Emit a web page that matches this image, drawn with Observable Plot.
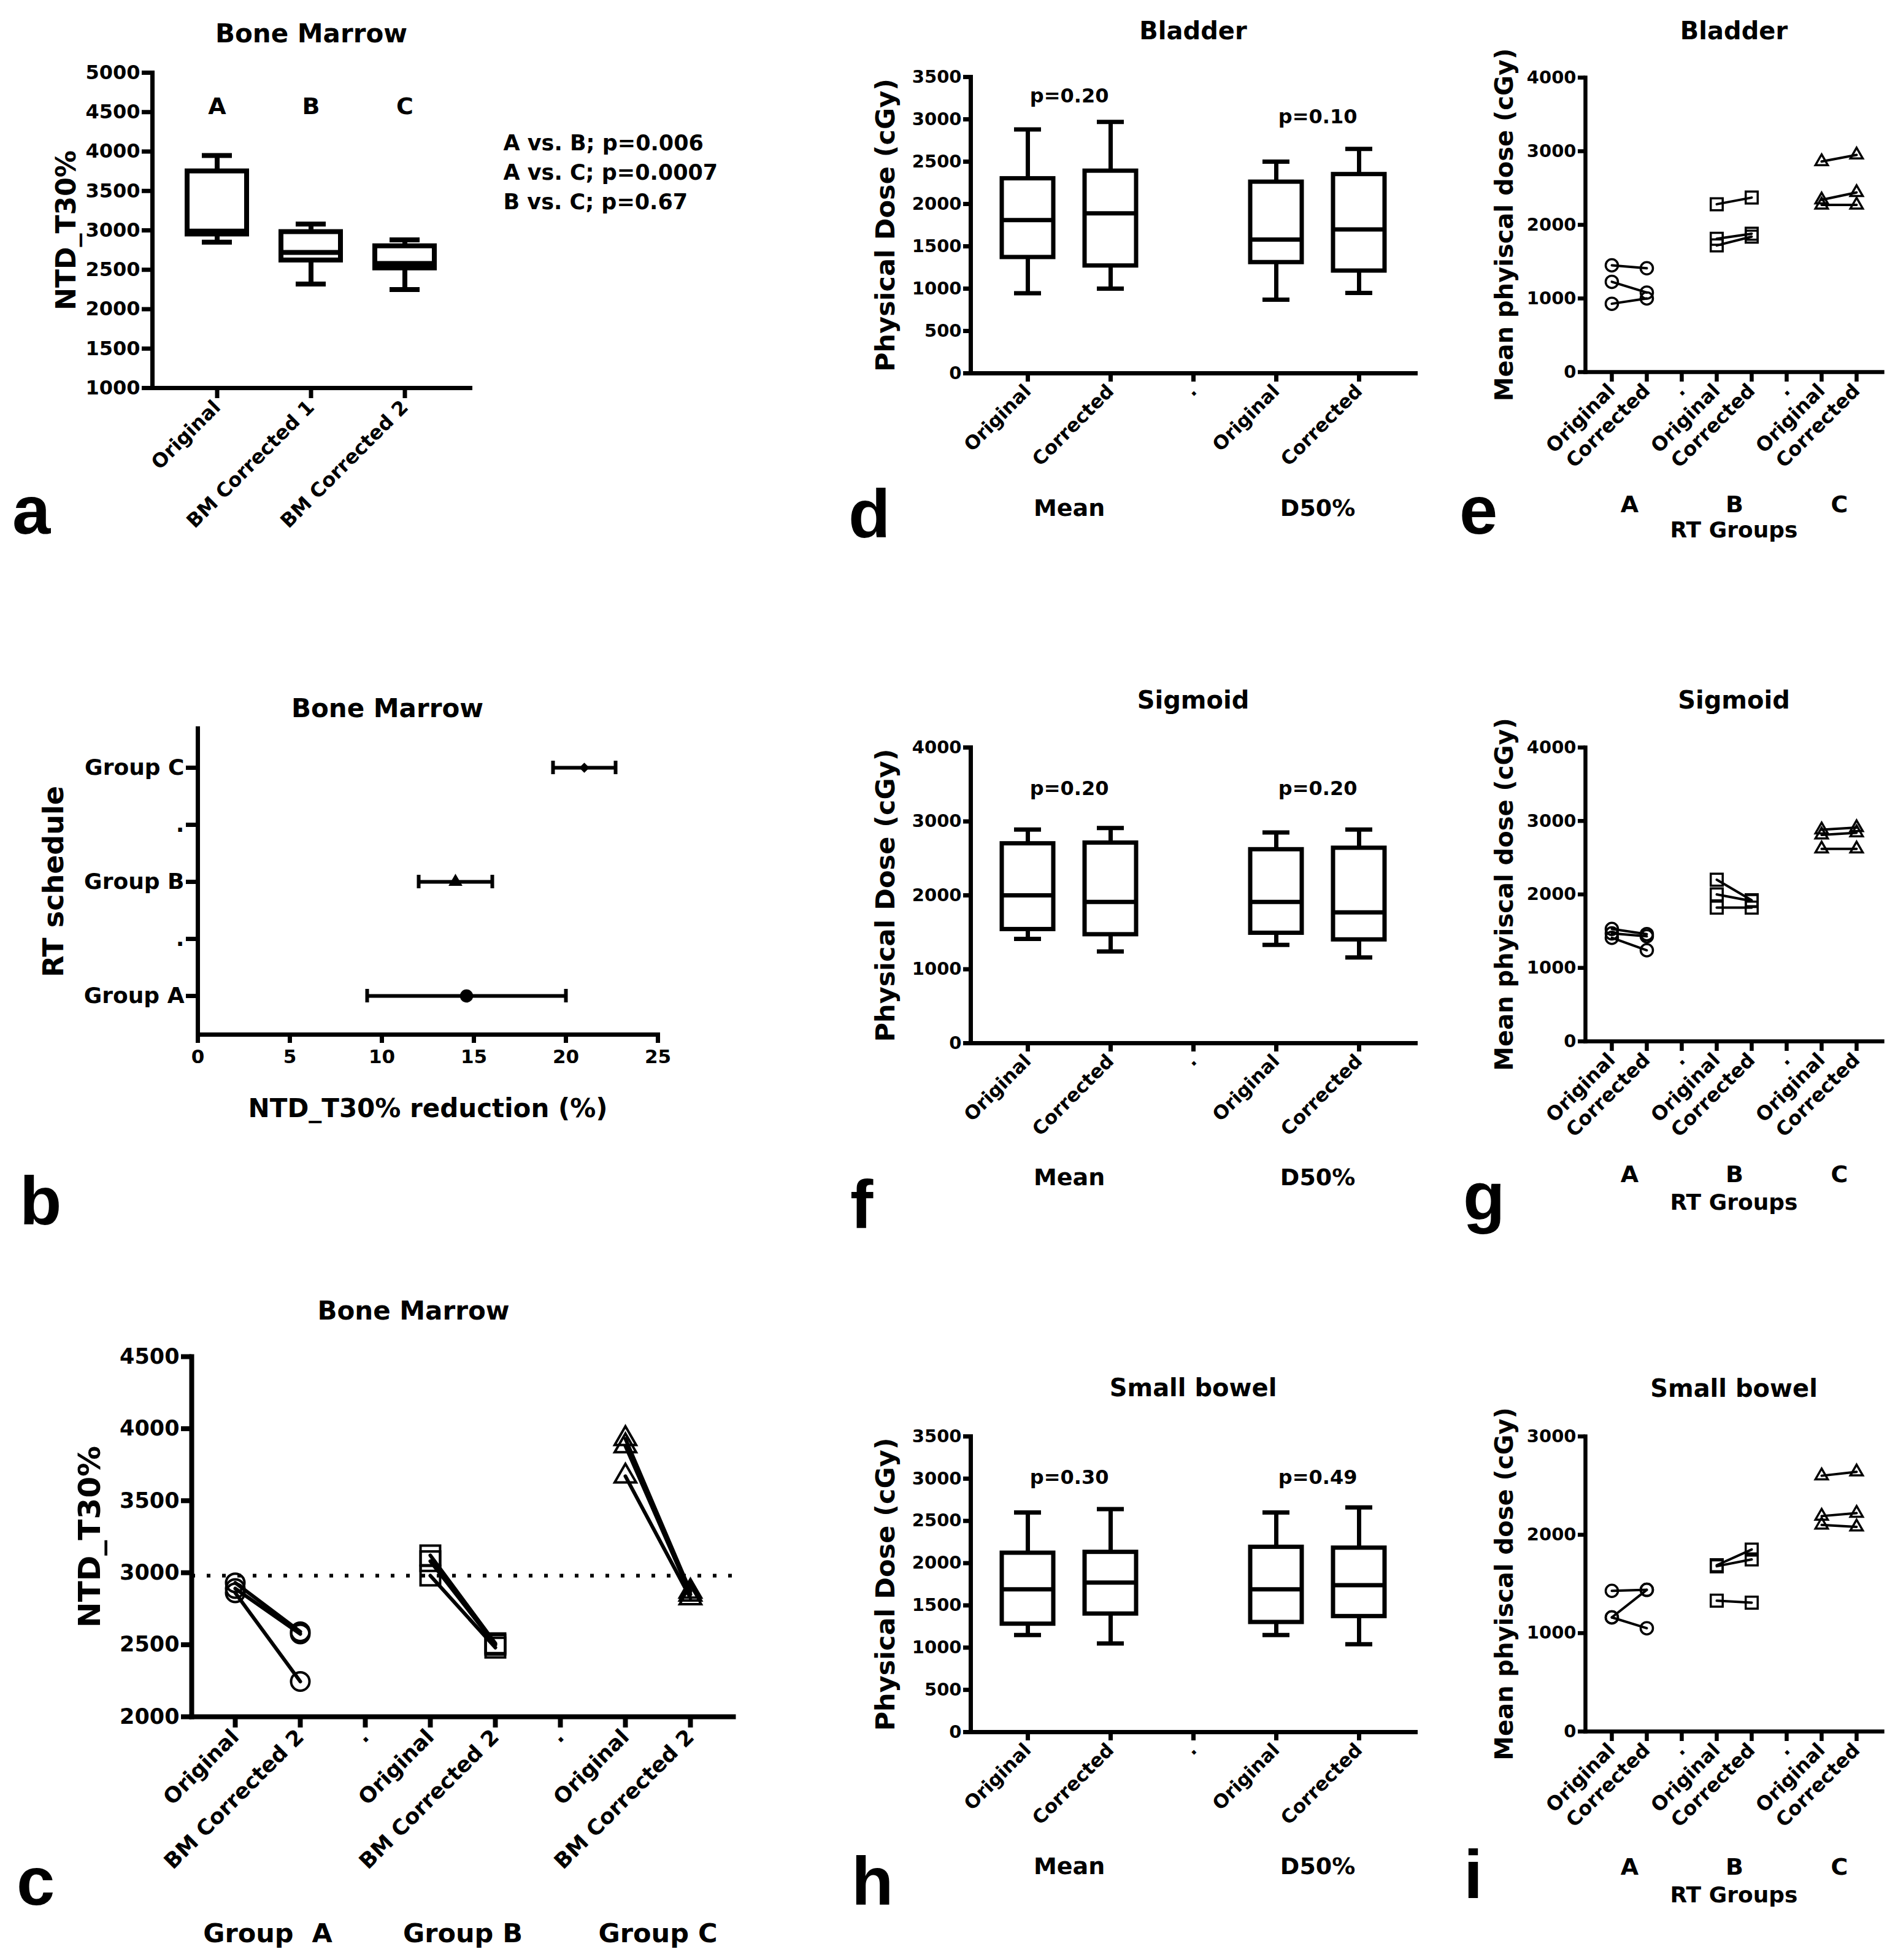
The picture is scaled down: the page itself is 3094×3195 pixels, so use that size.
<!DOCTYPE html>
<html>
<head>
<meta charset="utf-8">
<script src="https://cdn.jsdelivr.net/npm/d3@7"></script>
<script src="https://cdn.jsdelivr.net/npm/@observablehq/plot@0.6"></script>
<style>
  body { margin: 0; background: #fff; }
  #root { position: relative; width: 3094px; height: 3195px; background: #fff; overflow: hidden; }
  .letter { position: absolute; font-family: "Liberation Sans", Arial, sans-serif; font-weight: bold; font-size: 112px; line-height: 1; color: #000; }
</style>
</head>
<body>
<div id="root"></div>
<script>
// ---------------- DATA ----------------
// Panel a: Bone Marrow box plot
const bmCategories = ["Original", "BM Corrected 1", "BM Corrected 2"];
const bmLetters = ["A", "B", "C"];
const bmLow = [2850, 2320, 2250];
const bmQ1 = [2950, 2620, 2520];
const bmMedian = [2990, 2720, 2580];
const bmQ3 = [3750, 2980, 2800];
const bmHigh = [3950, 3080, 2880];
const bmComparisons = ["A vs. B; p=0.006", "A vs. C; p=0.0007", "B vs. C; p=0.67"];

// Panel b: NTD_T30% reduction by RT schedule
const rtGroups = ["Group A", "Group B", "Group C"];
const rtReduction = [14.6, 14.0, 21.0];
const rtLower = [9.2, 12.0, 19.3];
const rtUpper = [20.0, 16.0, 22.7];
const rtAxisKeys = ["Group A", "gapAB", "Group B", "gapBC", "Group C"];
const rtAxisLabels = ["Group A", ".", "Group B", ".", "Group C"];

// Panel c: Bone Marrow paired values
const groupIds = ["A", "B", "C"];
const pairKeys = ["A-Original", "A-Corrected", "gap1", "B-Original", "B-Corrected", "gap2", "C-Original", "C-Corrected"];
const bmPairTickLabels = ["Original", "BM Corrected 2", ".", "Original", "BM Corrected 2", ".", "Original", "BM Corrected 2"];
const bmPairGroupLabels = ["Group  A", "Group B", "Group C"];
const bmOrigA = [2930, 2890, 2860];
const bmCorrA = [2590, 2575, 2245];
const bmOrigB = [3120, 3080, 2980];
const bmCorrB = [2510, 2500, 2480];
const bmOrigC = [3930, 3880, 3670];
const bmCorrC = [2870, 2850, 2825];
const bmThreshold = 2980;

// Panels d, f, h: box plots of physical dose
const doseKeys = ["Mean-Original", "Mean-Corrected", "gap", "D50-Original", "D50-Corrected"];
const doseTickLabels = ["Original", "Corrected", ".", "Original", "Corrected"];
const doseBoxKeys = ["Mean-Original", "Mean-Corrected", "D50-Original", "D50-Corrected"];
const doseMetrics = ["Mean", "D50%"];
const doseMetricKeys = ["Mean-Original", "D50-Original"];

const bladderLow = [945, 1000, 870, 950];
const bladderQ1 = [1370, 1270, 1310, 1210];
const bladderMedian = [1810, 1890, 1580, 1700];
const bladderQ3 = [2300, 2390, 2260, 2350];
const bladderHigh = [2880, 2970, 2500, 2650];
const bladderP = ["p=0.20", "p=0.10"];

const sigmoidLow = [1410, 1240, 1330, 1160];
const sigmoidQ1 = [1540, 1470, 1490, 1400];
const sigmoidMedian = [2000, 1910, 1910, 1770];
const sigmoidQ3 = [2700, 2710, 2620, 2640];
const sigmoidHigh = [2890, 2910, 2850, 2890];
const sigmoidP = ["p=0.20", "p=0.20"];

const bowelLow = [1150, 1050, 1150, 1040];
const bowelQ1 = [1280, 1400, 1300, 1370];
const bowelMedian = [1690, 1770, 1690, 1740];
const bowelQ3 = [2120, 2130, 2190, 2180];
const bowelHigh = [2600, 2640, 2600, 2660];
const bowelP = ["p=0.30", "p=0.49"];

// Panels e, g, i: paired mean physical dose
const rtPairTickLabels = ["Original", "Corrected", ".", "Original", "Corrected", ".", "Original", "Corrected"];
const rtGroupLetters = ["A", "B", "C"];

const bladderOrigA = [1450, 1226, 928];
const bladderCorrA = [1410, 1080, 1000];
const bladderOrigB = [2280, 1810, 1720];
const bladderCorrB = [2370, 1880, 1840];
const bladderOrigC = [2860, 2340, 2270];
const bladderCorrC = [2950, 2440, 2270];

const sigmoidOrigA = [1530, 1470, 1410];
const sigmoidCorrA = [1460, 1430, 1240];
const sigmoidOrigB = [2200, 2000, 1820];
const sigmoidCorrB = [1920, 1910, 1820];
const sigmoidOrigC = [2880, 2810, 2620];
const sigmoidCorrC = [2910, 2840, 2620];

const bowelOrigA = [1430, 1160, 1160];
const bowelCorrA = [1440, 1440, 1050];
const bowelOrigB = [1690, 1680, 1330];
const bowelCorrB = [1850, 1750, 1310];
const bowelOrigC = [2600, 2190, 2100];
const bowelCorrC = [2640, 2220, 2080];

// ---------------- HELPERS ----------------
const FONT = "'DejaVu Sans', 'Liberation Sans', sans-serif";
const root = document.getElementById("root");
const baseStyle = () => ({fontFamily: FONT, fontWeight: "bold", color: "black", background: "white"});

function place(svg, left, top) {
  svg.style.position = "absolute";
  svg.style.left = left + "px";
  svg.style.top = top + "px";
  root.appendChild(svg);
}
function addLetter(ch, left, baseline) {
  const d = document.createElement("div");
  d.className = "letter";
  d.textContent = ch;
  d.style.left = left + "px";
  d.style.top = (baseline - 95) + "px";
  root.appendChild(d);
}
function labelMap(keys, labels) {
  const m = new Map(keys.map((k, i) => [k, labels[i]]));
  return (d) => m.get(d);
}
function pairRows(origs, corrs) {
  const rows = [];
  groupIds.forEach((g, gi) => {
    origs[gi].forEach((v, i) => {
      rows.push({group: g, pid: g + i, key: g + "-Original", value: v});
      rows.push({group: g, pid: g + i, key: g + "-Corrected", value: corrs[gi][i]});
    });
  });
  return rows;
}
const groupSymbols = {A: "circle", B: "square", C: "triangle"};

// ---------------- PANEL a ----------------
{
  const rows = bmCategories.map((c, i) => ({cat: c, low: bmLow[i], q1: bmQ1[i], med: bmMedian[i], q3: bmQ3[i], high: bmHigh[i], letter: bmLetters[i]}));
  const sw = 8;
  place(Plot.plot({
    width: 1250, height: 900,
    marginLeft: 248, marginRight: 484, marginTop: 118, marginBottom: 268,
    style: baseStyle(),
    x: {type: "band", domain: bmCategories, padding: 0.364},
    y: {domain: [1000, 5000]},
    marks: [
      Plot.ruleX(rows, {x: "cat", y1: "low", y2: "high", strokeWidth: sw}),
      Plot.tickY(rows, {x: "cat", y: "low", strokeWidth: sw, insetLeft: 24, insetRight: 24}),
      Plot.tickY(rows, {x: "cat", y: "high", strokeWidth: sw, insetLeft: 24, insetRight: 24}),
      Plot.barY(rows, {x: "cat", y1: "q1", y2: "q3", fill: "white", stroke: "black", strokeWidth: sw}),
      Plot.tickY(rows, {x: "cat", y: "med", strokeWidth: sw}),
      Plot.frame({anchor: "left", strokeWidth: 7}),
      Plot.frame({anchor: "bottom", strokeWidth: 7}),
      Plot.axisY({interval: 500, tickFormat: "d", tickSize: 17, strokeWidth: 7, tickPadding: 3, fontSize: 32, label: null}),
      Plot.axisX({tickSize: 17, strokeWidth: 7, tickRotate: -45, tickPadding: 9, fontSize: 32, label: null}),
      Plot.text(rows, {x: "cat", text: "letter", frameAnchor: "top", lineAnchor: "middle", dy: 55, fontSize: 38}),
      Plot.text([bmComparisons.join("\n")], {text: (d) => d, frameAnchor: "top-right", textAnchor: "start", lineAnchor: "middle", dx: 54, dy: 159, lineHeight: 1.37, fontSize: 35}),
      Plot.text(["Bone Marrow"], {text: (d) => d, frameAnchor: "top", lineAnchor: "middle", dy: -63, fontSize: 42}),
      Plot.text(["NTD_T30%"], {text: (d) => d, frameAnchor: "left", textAnchor: "middle", rotate: -90, dx: -140, fontSize: 44})
    ]
  }), 0, 0);
}

// ---------------- PANEL b ----------------
{
  const rows = rtGroups.map((g, i) => ({group: g, mean: rtReduction[i], lo: rtLower[i], hi: rtUpper[i]}));
  const markStyle = [{symbol: "circle", r: 10}, {symbol: "triangle", r: 7.5}, {symbol: "diamond2", r: 6.5}];
  place(Plot.plot({
    width: 1200, height: 900,
    marginLeft: 322, marginRight: 128, marginTop: 87, marginBottom: 314,
    style: baseStyle(),
    x: {domain: [0, 25]},
    y: {type: "band", domain: rtAxisKeys.slice().reverse(), paddingInner: 0.766, paddingOuter: 0.54},
    marks: [
      Plot.ruleY(rows, {y: "group", x1: "lo", x2: "hi", strokeWidth: 6}),
      Plot.tickX(rows, {y: "group", x: "lo", strokeWidth: 6}),
      Plot.tickX(rows, {y: "group", x: "hi", strokeWidth: 6}),
      ...rows.map((r, i) => Plot.dot([r], {x: "mean", y: "group", symbol: markStyle[i].symbol, r: markStyle[i].r, fill: "black", stroke: "black"})),
      Plot.frame({anchor: "left", strokeWidth: 7}),
      Plot.frame({anchor: "bottom", strokeWidth: 7}),
      Plot.axisY({tickSize: 19, strokeWidth: 7, tickPadding: 3, fontSize: 36, tickFormat: labelMap(rtAxisKeys, rtAxisLabels), label: null}),
      Plot.axisX({interval: 5, tickFormat: "d", tickSize: 14, strokeWidth: 7, tickPadding: 10, fontSize: 31, label: null}),
      Plot.text(["Bone Marrow"], {text: (d) => d, frameAnchor: "top", lineAnchor: "middle", dx: -66, dy: -32, fontSize: 42}),
      Plot.text(["NTD_T30% reduction (%)"], {text: (d) => d, frameAnchor: "bottom", lineAnchor: "middle", dy: 121, fontSize: 42}),
      Plot.text(["RT schedule"], {text: (d) => d, frameAnchor: "left", textAnchor: "middle", rotate: -90, dx: -234, fontSize: 46})
    ]
  }), 0, 1100);
}

// ---------------- PANEL c ----------------
{
  const rows = pairRows([bmOrigA, bmOrigB, bmOrigC], [bmCorrA, bmCorrB, bmCorrC]);
  const sizes = {A: 15, B: 18, C: 13};
  const groupRows = groupIds.map((g, i) => ({key: g + "-Original", label: bmPairGroupLabels[i]}));
  place(Plot.plot({
    width: 1250, height: 1115,
    marginLeft: 312, marginRight: 55, marginTop: 131, marginBottom: 397,
    style: baseStyle(),
    x: {type: "point", domain: pairKeys, padding: 0.665},
    y: {domain: [2000, 4500]},
    marks: [
      Plot.ruleY([bmThreshold], {strokeWidth: 6, strokeDasharray: "6 19"}),
      Plot.line(rows, {x: "key", y: "value", z: "pid", strokeWidth: 6}),
      ...groupIds.map((g) => Plot.dot(rows.filter((d) => d.group === g), {x: "key", y: "value", symbol: groupSymbols[g], r: sizes[g], stroke: "black", fill: "none", strokeWidth: 4})),
      Plot.frame({anchor: "left", strokeWidth: 8}),
      Plot.frame({anchor: "bottom", strokeWidth: 8}),
      Plot.axisY({interval: 500, tickFormat: "d", tickSize: 17, strokeWidth: 8, tickPadding: 3, fontSize: 35, label: null}),
      Plot.axisX({tickSize: 18, strokeWidth: 8, tickRotate: -45, tickPadding: 9, fontSize: 35, tickFormat: labelMap(pairKeys, bmPairTickLabels), label: null}),
      Plot.text(groupRows, {x: "key", text: "label", frameAnchor: "bottom", lineAnchor: "middle", dx: 53, dy: 354, fontSize: 43}),
      Plot.text(["Bone Marrow"], {text: (d) => d, frameAnchor: "top", lineAnchor: "middle", dx: -80, dy: -74, fontSize: 42}),
      Plot.text(["NTD_T30%"], {text: (d) => d, frameAnchor: "left", textAnchor: "middle", rotate: -90, dx: -166, fontSize: 50})
    ]
  }), 0, 2080);
}

// ---------------- PANELS d, f, h ----------------
function dosePanel(cfg) {
  const rows = doseBoxKeys.map((k, i) => ({key: k, low: cfg.low[i], q1: cfg.q1[i], med: cfg.med[i], q3: cfg.q3[i], high: cfg.high[i]}));
  const sw = 7;
  const metricRows = doseMetricKeys.map((k, i) => ({key: k, label: doseMetrics[i]}));
  const pMarks = cfg.p.map((p, i) => Plot.text([{key: doseMetricKeys[i], label: p}], {x: "key", text: "label", frameAnchor: "top", lineAnchor: "middle", dx: 67.6, dy: cfg.pDy[i], fontSize: 32}));
  place(Plot.plot({
    width: 1040, height: cfg.height,
    marginLeft: 282, marginRight: 33, marginTop: cfg.mt, marginBottom: cfg.mb,
    style: baseStyle(),
    x: {type: "band", domain: doseKeys, paddingInner: 0.38, paddingOuter: 0.37},
    y: {domain: cfg.yDomain},
    marks: [
      Plot.ruleX(rows, {x: "key", y1: "low", y2: "high", strokeWidth: sw}),
      Plot.tickY(rows, {x: "key", y: "low", strokeWidth: sw, insetLeft: 20, insetRight: 20}),
      Plot.tickY(rows, {x: "key", y: "high", strokeWidth: sw, insetLeft: 20, insetRight: 20}),
      Plot.barY(rows, {x: "key", y1: "q1", y2: "q3", fill: "white", stroke: "black", strokeWidth: sw}),
      Plot.tickY(rows, {x: "key", y: "med", strokeWidth: sw}),
      Plot.frame({anchor: "left", strokeWidth: 7}),
      Plot.frame({anchor: "bottom", strokeWidth: 7}),
      Plot.axisY({interval: cfg.interval, tickFormat: "d", tickSize: 12, strokeWidth: 7, tickPadding: 3, fontSize: 29, label: null}),
      Plot.axisX({tickSize: 14, strokeWidth: 7, tickRotate: -45, tickPadding: 10, fontSize: 31, tickFormat: labelMap(doseKeys, doseTickLabels), label: null}),
      ...pMarks,
      Plot.text(metricRows, {x: "key", text: "label", frameAnchor: "bottom", lineAnchor: "middle", dx: 67.6, dy: cfg.metricDy, fontSize: 38}),
      Plot.text([cfg.title], {text: (d) => d, frameAnchor: "top", lineAnchor: "middle", dy: cfg.titleDy, fontSize: 40}),
      Plot.text(["Physical Dose (cGy)"], {text: (d) => d, frameAnchor: "left", textAnchor: "middle", rotate: -90, dx: -138, fontSize: 43})
    ]
  }), 1300, cfg.top);
}
dosePanel({title: "Bladder", top: 0, height: 900, mt: 125, mb: 292, yDomain: [0, 3500], interval: 500,
  low: bladderLow, q1: bladderQ1, med: bladderMedian, q3: bladderQ3, high: bladderHigh, p: bladderP, pDy: [31, 65], metricDy: 220, titleDy: -74});
dosePanel({title: "Sigmoid", top: 1100, height: 920, mt: 118, mb: 320, yDomain: [0, 4000], interval: 1000,
  low: sigmoidLow, q1: sigmoidQ1, med: sigmoidMedian, q3: sigmoidQ3, high: sigmoidHigh, p: sigmoidP, pDy: [67, 67], metricDy: 219, titleDy: -76});
dosePanel({title: "Small bowel", top: 2200, height: 995, mt: 141, mb: 372, yDomain: [0, 3500], interval: 500,
  low: bowelLow, q1: bowelQ1, med: bowelMedian, q3: bowelQ3, high: bowelHigh, p: bowelP, pDy: [67, 67], metricDy: 219, titleDy: -78});

// ---------------- PANELS e, g, i ----------------
function pairPanel(cfg) {
  const rows = pairRows(cfg.origs, cfg.corrs);
  const sizes = {A: 10, B: 11, C: 7.5};
  const letterRows = groupIds.map((g, i) => ({key: g + "-Original", label: rtGroupLetters[i]}));
  place(Plot.plot({
    width: 754, height: cfg.height,
    marginLeft: 244, marginRight: 26, marginTop: cfg.mt, marginBottom: cfg.mb,
    style: baseStyle(),
    x: {type: "point", domain: pairKeys, padding: 0.685},
    y: {domain: cfg.yDomain},
    marks: [
      Plot.line(rows, {x: "key", y: "value", z: "pid", strokeWidth: 4}),
      ...groupIds.map((g) => Plot.dot(rows.filter((d) => d.group === g), {x: "key", y: "value", symbol: groupSymbols[g], r: sizes[g], stroke: "black", fill: "none", strokeWidth: 3.5})),
      Plot.frame({anchor: "left", strokeWidth: 6.5}),
      Plot.frame({anchor: "bottom", strokeWidth: 6.5}),
      Plot.axisY({interval: 1000, tickFormat: "d", tickSize: 12, strokeWidth: 6.5, tickPadding: 3, fontSize: 29, label: null}),
      Plot.axisX({tickSize: 16, strokeWidth: 6.5, tickRotate: -45, tickPadding: 9, fontSize: 32, tickFormat: labelMap(pairKeys, rtPairTickLabels), label: null}),
      Plot.text(letterRows, {x: "key", text: "label", frameAnchor: "bottom", lineAnchor: "middle", dx: 28.9, dy: cfg.letterDy, fontSize: 38}),
      Plot.text(["RT Groups"], {text: (d) => d, frameAnchor: "bottom", lineAnchor: "middle", dy: cfg.groupsDy, fontSize: 36}),
      Plot.text([cfg.title], {text: (d) => d, frameAnchor: "top", lineAnchor: "middle", dy: cfg.titleDy, fontSize: 40}),
      Plot.text(["Mean phyiscal dose (cGy)"], {text: (d) => d, frameAnchor: "left", textAnchor: "middle", rotate: -90, dx: -131, fontSize: 40})
    ]
  }), 2340, cfg.top);
}
pairPanel({title: "Bladder", top: 0, height: 900, mt: 126, mb: 294, yDomain: [0, 4000],
  origs: [bladderOrigA, bladderOrigB, bladderOrigC], corrs: [bladderCorrA, bladderCorrB, bladderCorrC], letterDy: 216, groupsDy: 258, titleDy: -75});
pairPanel({title: "Sigmoid", top: 1100, height: 920, mt: 118, mb: 323, yDomain: [0, 4000],
  origs: [sigmoidOrigA, sigmoidOrigB, sigmoidOrigC], corrs: [sigmoidCorrA, sigmoidCorrB, sigmoidCorrC], letterDy: 217, groupsDy: 263, titleDy: -76});
pairPanel({title: "Small bowel", top: 2200, height: 995, mt: 141, mb: 373, yDomain: [0, 3000],
  origs: [bowelOrigA, bowelOrigB, bowelOrigC], corrs: [bowelCorrA, bowelCorrB, bowelCorrC], letterDy: 221, groupsDy: 267, titleDy: -77});

// ---------------- PANEL LETTERS ----------------
addLetter("a", 20, 871);
addLetter("b", 32, 1997);
addLetter("c", 27, 3106);
addLetter("d", 1383, 877);
addLetter("e", 2379, 871);
addLetter("f", 1386, 2003);
addLetter("g", 2385, 1990);
addLetter("h", 1388, 3106);
addLetter("i", 2386, 3095);
</script>
</body>
</html>
